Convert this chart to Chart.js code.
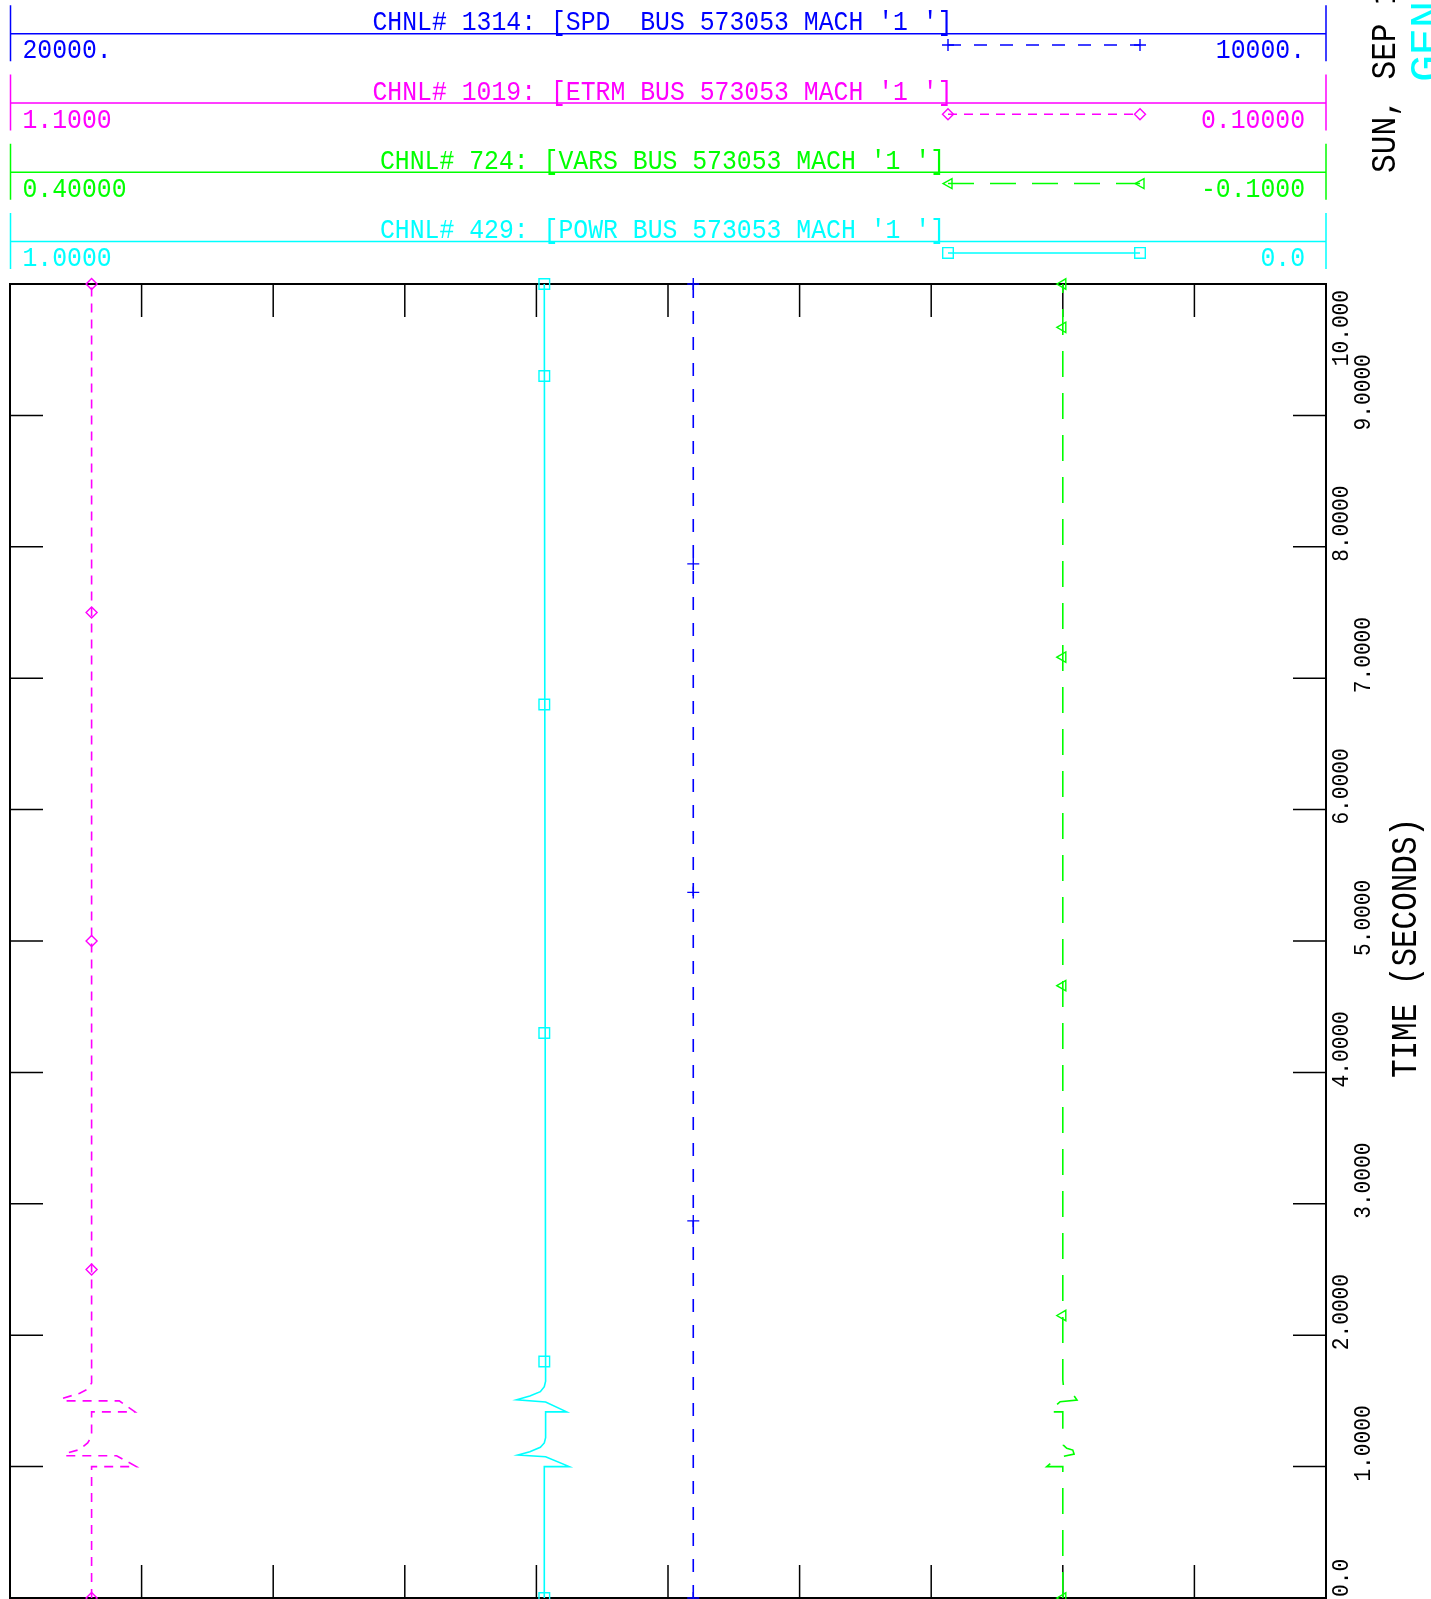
<!DOCTYPE html>
<html><head><meta charset="utf-8">
<script src="https://cdn.jsdelivr.net/npm/chart.js@4.4.1/dist/chart.umd.min.js"></script>
<style>html,body{margin:0;padding:0;background:#fff;overflow:hidden}canvas{display:block}</style>
</head><body>
<canvas id="plot" width="1431" height="1599" style="width:1431px;height:1599px"></canvas>
<script>
// time axis (seconds), drawn vertically
const timeTicks = [0, 1, 2, 3, 4, 5, 6, 7, 8, 9, 10];
const timeTickLabels = ['0.0', '1.0000', '2.0000', '3.0000', '4.0000', '5.0000', '6.0000', '7.0000', '8.0000', '9.0000', '10.000'];

// channel headers
const chanTitles = ["CHNL# 1314: [SPD  BUS 573053 MACH '1 ']", "CHNL# 1019: [ETRM BUS 573053 MACH '1 ']",
                    "CHNL# 724: [VARS BUS 573053 MACH '1 ']", "CHNL# 429: [POWR BUS 573053 MACH '1 ']"];
const chanMax = [20000, 1.1, 0.4, 1.0];
const chanMin = [10000, 0.1, -0.1, 0.0];
const chanMaxLabels = ['20000.', '1.1000', '0.40000', '1.0000'];
const chanMinLabels = ['10000.', '0.10000', '-0.1000', '0.0'];
const chanColors = ['#0000ff', '#ff00ff', '#00ff00', '#00ffff'];

// SPD (blue)
const spdTime = [0, 10];
const spdVals = [14808, 14808];
const spdMarkTime = [0, 2.87, 5.37, 7.87, 10];

// ETRM (magenta)
const etrmTime = [0, 1.0, 1.0, 1.083, 1.083, 1.10, 1.13, 1.18, 1.23, 1.4167, 1.4167, 1.5, 1.5, 1.52, 1.558, 1.59, 1.636, 10];
const etrmVals = [1.038, 1.038, 1.004, 1.019, 1.058, 1.058, 1.047, 1.041, 1.038, 1.038, 1.005, 1.017, 1.060, 1.060, 1.047, 1.041, 1.038, 1.038];
const etrmMarkTime = [0, 2.5, 5.0, 7.5, 10];

// VARS (green)
const varsTime = [0, 1.0, 1.0, 1.07, 1.095, 1.126, 1.139, 1.164, 1.228, 1.4167, 1.4167, 1.494, 1.507, 1.553, 1.576, 1.62, 1.66, 10];
const varsVals = [0.0, 0.0, 0.0061, 0.0018, -0.0043, -0.0038, -0.0015, -0.0002, 0.0, 0.0, 0.0053, 0.0010, -0.0054, -0.0038, -0.0015, -0.0002, 0.0, 0.0];
const varsMarkTime = [0, 2.15, 4.66, 7.16, 9.67, 10];

// POWR (cyan)
const powrTime = [0, 1.0, 1.0, 1.075, 1.088, 1.113, 1.147, 1.18, 1.22, 1.4167, 1.4167, 1.492, 1.508, 1.537, 1.57, 1.608, 1.65, 10];
const powrVals = [0.594, 0.594, 0.575, 0.593, 0.614, 0.605, 0.597, 0.594, 0.593, 0.593, 0.577, 0.593, 0.615, 0.605, 0.597, 0.594, 0.593, 0.594];
const powrMarkTime = [0, 1.8, 4.3, 6.8, 9.3, 10];

const FONT = '"Liberation Mono", "DejaVu Sans Mono", monospace';

function pts(times, vals) {
  return times.map((t, i) => ({x: vals[i], y: t}));
}
function marks(times, v) {
  return times.map(t => ({x: v, y: t}));
}

const dash = [[13, 13], [9, 7], [26, 16], []];
const mStyle = ['cross', 'rectRot', 'triangle', 'rect'];
const mRot = [0, 0, -90, 0];
const mRad = [6, 5.5, 6, 7.5];

const series = [
  {t: spdTime, v: spdVals, m: spdMarkTime, base: 14808},
  {t: etrmTime, v: etrmVals, m: etrmMarkTime, base: 1.038},
  {t: varsTime, v: varsVals, m: varsMarkTime, base: 0.0},
  {t: powrTime, v: powrVals, m: powrMarkTime, base: 0.594}
];

const datasets = [];
series.forEach((s, i) => {
  datasets.push({
    label: chanTitles[i], data: pts(s.t, s.v), xAxisID: 'x' + i, yAxisID: 'y',
    showLine: true, borderColor: chanColors[i], borderWidth: 1.6, borderDash: dash[i],
    pointRadius: 0, clip: false, tension: 0
  });
  datasets.push({
    label: chanTitles[i] + ' marks', data: marks(s.m, s.base), xAxisID: 'x' + i, yAxisID: 'y',
    showLine: false, pointStyle: mStyle[i], rotation: mRot[i], pointRadius: mRad[i],
    borderColor: chanColors[i], backgroundColor: 'rgba(0,0,0,0)', pointBorderWidth: 1.4, clip: false
  });
});

function txt(ctx, s, x, y, size, color, align, sx, rot) {
  ctx.save();
  ctx.translate(x, y);
  if (rot) ctx.rotate(rot);
  ctx.scale(sx, 1);
  ctx.font = size + 'px ' + FONT;
  ctx.fillStyle = color;
  ctx.textAlign = align;
  ctx.textBaseline = 'alphabetic';
  ctx.fillText(s, 0, 0);
  ctx.restore();
}

function drawMark(ctx, style, x, y, color) {
  ctx.save();
  ctx.strokeStyle = color; ctx.lineWidth = 1.4; ctx.setLineDash([]);
  ctx.beginPath();
  if (style === 'cross') {
    ctx.moveTo(x - 6, y); ctx.lineTo(x + 6, y); ctx.moveTo(x, y - 6); ctx.lineTo(x, y + 6);
  } else if (style === 'rectRot') {
    ctx.moveTo(x - 5.5, y); ctx.lineTo(x, y - 5.5); ctx.lineTo(x + 5.5, y); ctx.lineTo(x, y + 5.5); ctx.closePath();
  } else if (style === 'triangle') {
    ctx.moveTo(x - 5, y); ctx.lineTo(x + 4, y - 5); ctx.lineTo(x + 4, y + 5); ctx.closePath();
  } else {
    ctx.rect(x - 5.3, y - 5.3, 10.6, 10.6);
  }
  ctx.stroke();
  ctx.restore();
}

const framePlugin = {
  id: 'frame',
  beforeDatasetsDraw(chart) {
    const {ctx, chartArea: a} = chart;
    const xs = chart.scales.x0, ys = chart.scales.y;
    ctx.save();
    ctx.strokeStyle = '#000';
    ctx.lineWidth = 2;
    ctx.strokeRect(a.left, a.top, a.right - a.left, a.bottom - a.top);
    ctx.lineWidth = 1.5;
    ctx.beginPath();
    for (let v = 11000; v < 20000; v += 1000) {
      const px = xs.getPixelForValue(v);
      ctx.moveTo(px, a.top); ctx.lineTo(px, a.top + 33);
      ctx.moveTo(px, a.bottom); ctx.lineTo(px, a.bottom - 33);
    }
    timeTicks.forEach(t => {
      if (t === 0 || t === 10) return;
      const py = ys.getPixelForValue(t);
      ctx.moveTo(a.left, py); ctx.lineTo(a.left + 33, py);
      ctx.moveTo(a.right, py); ctx.lineTo(a.right - 33, py);
    });
    ctx.stroke();
    ctx.restore();
  },
  afterDraw(chart) {
    const {ctx, chartArea: a} = chart;
    const ys = chart.scales.y;
    // channel header blocks
    for (let i = 0; i < 4; i++) {
      const hl = 33.7 + i * 69.3;
      const c = chanColors[i];
      ctx.save();
      ctx.strokeStyle = c; ctx.lineWidth = 1.5;
      ctx.beginPath();
      ctx.moveTo(a.left + 0.5, hl - 28.5); ctx.lineTo(a.left + 0.5, hl + 27.5);
      ctx.moveTo(a.right, hl - 28.5); ctx.lineTo(a.right, hl + 27.5);
      ctx.moveTo(a.left, hl); ctx.lineTo(a.right, hl);
      ctx.stroke();
      // legend sample
      const ly = hl + 11.3;
      ctx.setLineDash(dash[i]);
      ctx.beginPath();
      ctx.moveTo(948, ly); ctx.lineTo(1140, ly);
      ctx.stroke();
      ctx.restore();
      drawMark(ctx, mStyle[i], 948, ly, c);
      drawMark(ctx, mStyle[i], 1140, ly, c);
      txt(ctx, chanTitles[i], 662.5, hl - 3.5, 27, c, 'center', 0.918, 0);
      txt(ctx, chanMaxLabels[i], 22.4, hl + 24.5, 27, c, 'left', 0.918, 0);
      txt(ctx, chanMinLabels[i], 1305, hl + 24.5, 27, c, 'right', 0.918, 0);
    }
    // time tick labels, rotated
    ctx.save();
    ctx.font = '23px ' + FONT;
    timeTicks.forEach((t, i) => {
      const lab = timeTickLabels[i];
      const len = ctx.measureText(lab).width * 0.92;
      const py = ys.getPixelForValue(t);
      let start = Math.min(py + 15, 1597);
      start = Math.max(start, 290 + len);
      const bx = (i % 2 === 0) ? 1348 : 1370;
      txt(ctx, lab, bx, start, 23, '#000', 'left', 0.92, -Math.PI / 2);
    });
    ctx.restore();
    txt(ctx, 'TIME (SECONDS)', 1416, 948, 36, '#000', 'center', 0.86, -Math.PI / 2);
    txt(ctx, 'SUN, SEP 14 2014  10:31', 1395, 173, 35, '#000', 'left', 0.89, -Math.PI / 2);
    txt(ctx, 'GENERATOR 573053', 1440, 82, 45, '#00ffff', 'left', 1, -Math.PI / 2);
  }
};

const scales = {
  y: {type: 'linear', min: 0, max: 10, display: false}
};
for (let i = 0; i < 4; i++) {
  scales['x' + i] = {type: 'linear', position: 'bottom', min: chanMin[i], max: chanMax[i], reverse: true, display: false};
}

new Chart(document.getElementById('plot').getContext('2d'), {
  type: 'scatter',
  data: {datasets: datasets},
  options: {
    responsive: false,
    animation: false,
    devicePixelRatio: 1,
    layout: {autoPadding: false, padding: {left: 10, top: 284, right: 105, bottom: 1}},
    scales: scales,
    plugins: {legend: {display: false}, tooltip: {enabled: false}}
  },
  plugins: [framePlugin]
});
</script>
</body></html>
